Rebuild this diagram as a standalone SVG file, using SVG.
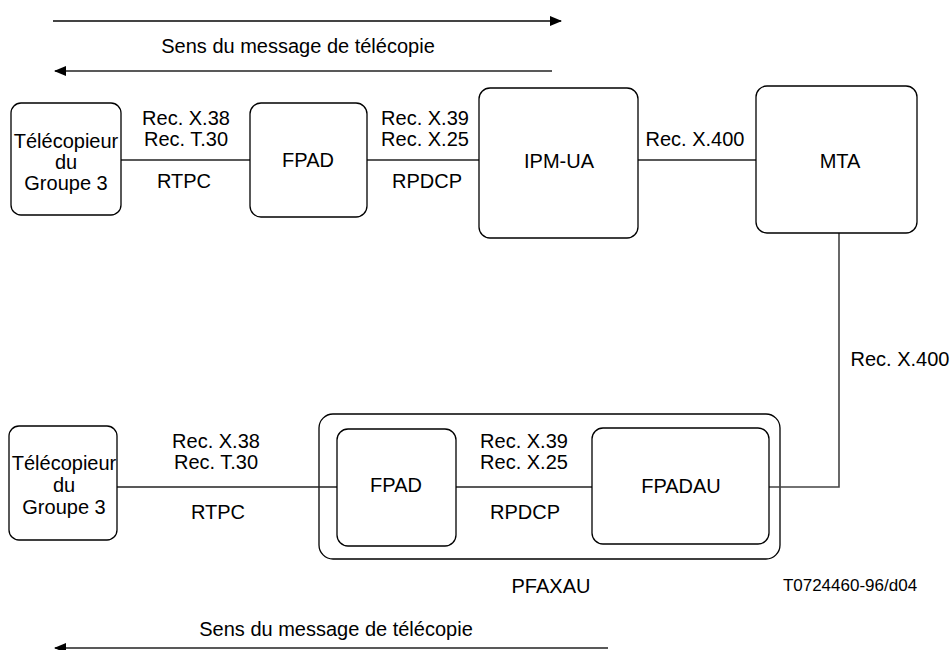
<svg xmlns="http://www.w3.org/2000/svg" width="951" height="650" viewBox="0 0 951 650">
<style>
text{font-family:"Liberation Sans",Arial,sans-serif;font-size:20px;fill:#000;text-anchor:middle}
.box{fill:#fff;stroke:#000;stroke-width:1.3}
.frame{fill:none;stroke:#000;stroke-width:1.3}
.ln{fill:none;stroke:#222;stroke-width:1.3}
.ar{fill:none;stroke:#222;stroke-width:1.6}
.small{font-size:17px}
</style>
<defs>
<marker id="ah" markerWidth="12" markerHeight="10" refX="11" refY="5" orient="auto" markerUnits="userSpaceOnUse">
<path d="M0,0 L12,5 L0,10 Z" fill="#000"/>
</marker>
</defs>
<rect width="951" height="650" fill="#fff"/>
<g id="direction-top">
<line class="ar" x1="53" y1="21" x2="561" y2="21" style="stroke-width:2.2;stroke:#444" marker-end="url(#ah)"/>
<text x="298" y="53">Sens du message de télécopie</text>
<line class="ar" x1="552" y1="71" x2="55" y2="71" marker-end="url(#ah)"/>
</g>
<g id="pfaxau">
<rect class="frame" x="319" y="414" width="461" height="145" rx="14"/>
<text x="551" y="593">PFAXAU</text>
</g>
<g id="connectors">
<line class="ln" x1="121" y1="160" x2="250" y2="160"/>
<line class="ln" x1="367" y1="160" x2="479" y2="160"/>
<line class="ln" x1="638" y1="160" x2="756" y2="160"/>
<polyline class="ln" points="839,233 839,487 769,487" style="stroke:#444;stroke-width:1.6"/>
<line class="ln" x1="117" y1="487" x2="337" y2="487"/>
<line class="ln" x1="456" y1="487" x2="592" y2="487"/>
</g>
<g id="labels">
<text x="186" y="125">Rec. X.38</text>
<text x="186" y="146">Rec. T.30</text>
<text x="184" y="188">RTPC</text>
<text x="425" y="125">Rec. X.39</text>
<text x="425" y="146">Rec. X.25</text>
<text x="427" y="188">RPDCP</text>
<text x="695" y="146">Rec. X.400</text>
<text x="900" y="366">Rec. X.400</text>
<text x="216" y="448">Rec. X.38</text>
<text x="216" y="469">Rec. T.30</text>
<text x="218" y="519">RTPC</text>
<text x="524" y="448">Rec. X.39</text>
<text x="524" y="469">Rec. X.25</text>
<text x="525" y="519">RPDCP</text>
</g>
<g id="fax1">
<rect class="box" x="11" y="103" width="110" height="112" rx="10"/>
<text x="66" y="148">Télécopieur</text>
<text x="66" y="169">du</text>
<text x="66" y="190">Groupe 3</text>
</g>
<g id="fpad1">
<rect class="box" x="250" y="103" width="117" height="114" rx="11"/>
<text x="308" y="167">FPAD</text>
</g>
<g id="ipmua">
<rect class="box" x="479" y="88" width="159" height="150" rx="11"/>
<text x="559" y="168">IPM-UA</text>
</g>
<g id="mta">
<rect class="box" x="756" y="86" width="161" height="147" rx="11"/>
<text x="840" y="168">MTA</text>
</g>
<g id="fax2">
<rect class="box" x="9" y="426" width="108" height="114" rx="10"/>
<text x="64" y="470">Télécopieur</text>
<text x="64" y="492">du</text>
<text x="64" y="514">Groupe 3</text>
</g>
<g id="fpad2">
<rect class="box" x="337" y="429" width="119" height="117" rx="11"/>
<text x="396" y="492">FPAD</text>
</g>
<g id="fpadau">
<rect class="box" x="592" y="428" width="177" height="116" rx="11"/>
<text x="681" y="493">FPADAU</text>
</g>
<text class="small" x="850" y="591">T0724460-96/d04</text>
<g id="direction-bottom">
<text x="336" y="636">Sens du message de télécopie</text>
<line class="ar" x1="608" y1="648" x2="55" y2="648" marker-end="url(#ah)"/>
</g>
</svg>
